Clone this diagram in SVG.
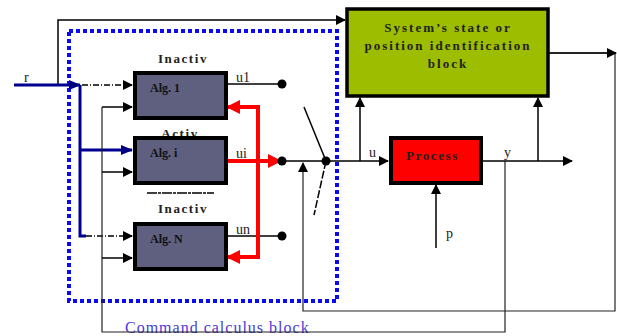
<svg xmlns="http://www.w3.org/2000/svg" width="617" height="336" viewBox="0 0 617 336">
<defs>
<marker id="ab" markerWidth="10" markerHeight="10" refX="9" refY="5" orient="auto" markerUnits="userSpaceOnUse"><path d="M0,0 L10,5 L0,10 Z" fill="#000"/></marker>
<marker id="ar" markerWidth="14" markerHeight="14" refX="12" refY="7" orient="auto" markerUnits="userSpaceOnUse"><path d="M0,0 L14,7 L0,14 Z" fill="#f00"/></marker>
<marker id="an" markerWidth="12" markerHeight="10" refX="11" refY="5" orient="auto" markerUnits="userSpaceOnUse"><path d="M0,0 L12,5 L0,10 Z" fill="#000080"/></marker>
<style>
.ln{fill:none;stroke:#000;stroke-width:1.5}
.thin{fill:none;stroke:#222;stroke-width:1.2}
.red{fill:none;stroke:#f00;stroke-width:4}
.navy{fill:none;stroke:#000090;stroke-width:3}
.alg{fill:#5f5f80;stroke:#000;stroke-width:4}
.lab{font-family:"Liberation Serif",serif;font-weight:bold;font-size:13px;letter-spacing:1.6px;fill:#222}
.glab{font-family:"Liberation Serif",serif;font-weight:bold;font-size:13px;letter-spacing:2px;fill:#222}
.alt{font-family:"Liberation Serif",serif;font-weight:bold;font-size:12px;fill:#111}
.sm{font-family:"Liberation Serif",serif;font-size:14px;fill:#222}
.dot{fill:#000}
</style>
</defs>
<rect width="617" height="336" fill="#fff"/>

<g id="command-block">
<rect x="69" y="31" width="268" height="270" fill="none" stroke="#0a0af0" stroke-width="4" stroke-dasharray="4 3"/>
<text x="125" y="333" font-family="Liberation Serif,serif" font-size="16" fill="#4a3ad8" letter-spacing="1">Command calculus block</text>
</g>

<g id="connectors">
<polyline class="ln" points="58,85 58,20 345,20" marker-end="url(#ab)"/>
<line class="navy" x1="14" y1="85" x2="80" y2="85" marker-end="url(#an)"/>
<polyline class="navy" points="80,85 80,236 86,236"/>
<line class="navy" x1="80" y1="150" x2="132" y2="150" marker-end="url(#an)"/>
<line class="ln" x1="82" y1="85" x2="132" y2="85" stroke-dasharray="6 2 1 2" marker-end="url(#ab)"/>
<line class="ln" x1="86" y1="236" x2="132" y2="236" stroke-dasharray="6 2 1 2" marker-end="url(#ab)"/>
<polyline class="thin" points="505,161 505,332 102,332 102,107"/>
<line class="ln" x1="102" y1="107" x2="132" y2="107" marker-end="url(#ab)"/>
<line class="ln" x1="102" y1="172" x2="132" y2="172" marker-end="url(#ab)"/>
<line class="ln" x1="102" y1="258" x2="132" y2="258" marker-end="url(#ab)"/>
<line class="ln" x1="226" y1="84" x2="282" y2="84"/>
<line class="ln" x1="226" y1="236" x2="282" y2="236"/>
<line class="red" x1="226" y1="161" x2="280" y2="161" marker-end="url(#ar)"/>
<polyline class="red" points="258,161 258,107 228,107" marker-end="url(#ar)"/>
<polyline class="red" points="258,161 258,257 228,257" marker-end="url(#ar)"/>
<line class="ln" x1="282" y1="161" x2="388" y2="161" marker-end="url(#ab)"/>
<line class="ln" x1="304" y1="107" x2="326" y2="161"/>
<line class="ln" x1="326" y1="161" x2="314" y2="215" stroke-dasharray="8 2"/>
<polyline class="thin" points="550,53 615,53 615,311 303,311 303,163" marker-end="url(#ab)"/>
<line class="ln" x1="549" y1="53" x2="616" y2="53" marker-end="url(#ab)"/>
<line class="ln" x1="360" y1="161" x2="360" y2="98" marker-end="url(#ab)"/>
<line class="ln" x1="538" y1="161" x2="538" y2="98" marker-end="url(#ab)"/>
<line class="ln" x1="482" y1="161" x2="572" y2="161" marker-end="url(#ab)"/>
<line class="ln" x1="436" y1="248" x2="436" y2="185" marker-end="url(#ab)"/>
<circle class="dot" cx="282" cy="84" r="4.5"/>
<circle class="dot" cx="282" cy="161" r="4.5"/>
<circle class="dot" cx="282" cy="236" r="4.5"/>
<circle class="dot" cx="326" cy="161" r="4.5"/>
<text class="sm" x="236" y="82">u1</text>
<text class="sm" x="236" y="158" fill="#203070">ui</text>
<text class="sm" x="236" y="234">un</text>
<text class="sm" x="24" y="82">r</text>
<text class="sm" x="369" y="157" fill="#203070">u</text>
<text class="sm" x="504" y="157" fill="#203070">y</text>
<text class="sm" x="446" y="238">p</text>
</g>

<g id="alg1">
<text class="lab" x="183" y="63" text-anchor="middle">Inactiv</text>
<rect class="alg" x="135" y="73" width="91" height="45"/>
<text class="alt" x="150" y="92">Alg. 1</text>
</g>

<g id="algi">
<text class="lab" x="180" y="138" text-anchor="middle">Activ</text>
<rect class="alg" x="135" y="138" width="91" height="45"/>
<text class="alt" x="150" y="157">Alg. i</text>
</g>

<g id="algN">
<line x1="147" y1="193" x2="214" y2="193" stroke="#000" stroke-width="1.5" stroke-dasharray="10 1 3 1"/>
<text class="lab" x="183" y="213" text-anchor="middle">Inactiv</text>
<rect class="alg" x="135" y="224" width="91" height="45"/>
<text class="alt" x="150" y="243">Alg. N</text>
</g>

<g id="identification">
<rect x="347" y="9" width="201" height="87" fill="#9cbd00" stroke="#000" stroke-width="3.5"/>
<text class="glab" x="448" y="32" text-anchor="middle">System’s state or</text>
<text class="glab" x="448" y="50" text-anchor="middle">position identification</text>
<text class="glab" x="448" y="68" text-anchor="middle">block</text>
</g>

<g id="process">
<rect x="391" y="138" width="90" height="45" fill="#f00" stroke="#000" stroke-width="4"/>
<text class="lab" x="406" y="160">Process</text>
</g>
</svg>
